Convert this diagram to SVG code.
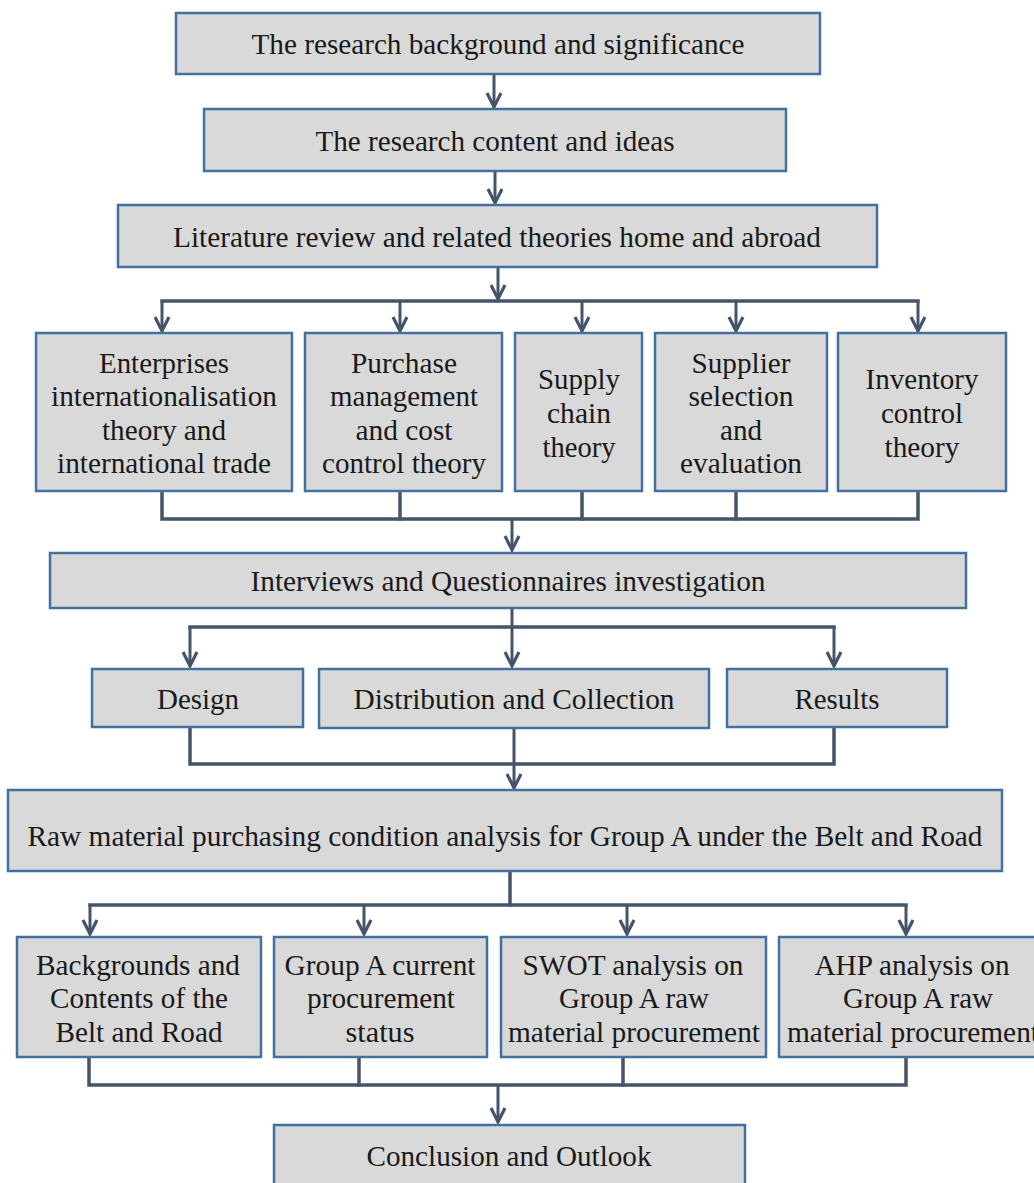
<svg xmlns="http://www.w3.org/2000/svg" width="1034" height="1183" viewBox="0 0 1034 1183">
  <style>
    .box { fill: #d9d9d9; stroke: #41719c; stroke-width: 2.5; }
    .lbl { font-family: "Liberation Serif", "Times New Roman", Times, serif; font-size: 30px; fill: #1a1a1a; text-anchor: middle; }
    .wire { fill: none; stroke: #44546a; stroke-width: 3.5; stroke-linejoin: miter; stroke-linecap: square; }
    .arw { fill: none; stroke: #44546a; stroke-width: 3; marker-end: url(#head); }
  </style>
  <defs>
    <!-- open chevron arrowhead, tip at the path end -->
    <marker id="head" viewBox="-17 -10 19 20" refX="0" refY="0" markerWidth="19" markerHeight="20" markerUnits="userSpaceOnUse" orient="auto" overflow="visible">
      <path d="M-14,-7 L0,0 L-14,7" fill="none" stroke="#44546a" stroke-width="3.2" stroke-linejoin="miter"/>
    </marker>
  </defs>
  <rect width="1034" height="1183" fill="#ffffff"/>

  <g id="connectors">
    <path class="arw" d="M494,74 V107"/>
    <path class="arw" d="M495,171 V203"/>
    <path class="arw" d="M498,267 V299"/>
    <path class="wire" d="M162,301 H918"/>
    <path class="arw" d="M162,301 V331"/>
    <path class="arw" d="M400,301 V331"/>
    <path class="arw" d="M582,301 V331"/>
    <path class="arw" d="M736,301 V331"/>
    <path class="arw" d="M918,301 V331"/>
    <path class="wire" d="M162,491 V519 H918 V491"/>
    <path class="wire" d="M400,491 V519"/>
    <path class="wire" d="M582,491 V519"/>
    <path class="wire" d="M736,491 V519"/>
    <path class="arw" d="M512,519 V550"/>
    <path class="arw" d="M512,608 V666"/>
    <path class="wire" d="M190,627 H834"/>
    <path class="arw" d="M190,627 V666"/>
    <path class="arw" d="M834,627 V666"/>
    <path class="wire" d="M190,727 V764 H834 V727"/>
    <path class="arw" d="M514,728 V788"/>
    <path class="wire" d="M510,871 V905"/>
    <path class="wire" d="M90,905 H906"/>
    <path class="arw" d="M90,905 V934"/>
    <path class="arw" d="M364,905 V934"/>
    <path class="arw" d="M627,905 V934"/>
    <path class="arw" d="M906,905 V934"/>
    <path class="wire" d="M89,1057 V1085 H906 V1057"/>
    <path class="wire" d="M359,1057 V1085"/>
    <path class="wire" d="M623,1057 V1085"/>
    <path class="arw" d="M498,1085 V1122"/>
  </g>

  <g id="background">
    <rect class="box" x="176" y="13" width="644" height="61"/>
    <text class="lbl" x="498" y="54" textLength="493" lengthAdjust="spacingAndGlyphs">The research background and significance</text>
  </g>
  <g id="content">
    <rect class="box" x="204" y="109" width="582" height="62"/>
    <text class="lbl" x="495" y="151" textLength="359" lengthAdjust="spacingAndGlyphs">The research content and ideas</text>
  </g>
  <g id="literature">
    <rect class="box" x="118" y="205" width="759" height="62"/>
    <text class="lbl" x="497" y="247" textLength="648" lengthAdjust="spacingAndGlyphs">Literature review and related theories home and abroad</text>
  </g>

  <g id="theory-internationalisation">
    <rect class="box" x="36" y="333" width="256" height="158"/>
    <text class="lbl" x="164" y="373" textLength="130" lengthAdjust="spacingAndGlyphs">Enterprises</text>
    <text class="lbl" x="164" y="406" textLength="226" lengthAdjust="spacingAndGlyphs">internationalisation</text>
    <text class="lbl" x="164" y="440" textLength="124" lengthAdjust="spacingAndGlyphs">theory and</text>
    <text class="lbl" x="164" y="473" textLength="214" lengthAdjust="spacingAndGlyphs">international trade</text>
  </g>
  <g id="theory-purchase">
    <rect class="box" x="305" y="333" width="197" height="158"/>
    <text class="lbl" x="404" y="373" textLength="106" lengthAdjust="spacingAndGlyphs">Purchase</text>
    <text class="lbl" x="404" y="406" textLength="148" lengthAdjust="spacingAndGlyphs">management</text>
    <text class="lbl" x="404" y="440" textLength="97" lengthAdjust="spacingAndGlyphs">and cost</text>
    <text class="lbl" x="404" y="473" textLength="164" lengthAdjust="spacingAndGlyphs">control theory</text>
  </g>
  <g id="theory-supply-chain">
    <rect class="box" x="515" y="333" width="127" height="158"/>
    <text class="lbl" x="579" y="389" textLength="82" lengthAdjust="spacingAndGlyphs">Supply</text>
    <text class="lbl" x="579" y="423" textLength="64" lengthAdjust="spacingAndGlyphs">chain</text>
    <text class="lbl" x="579" y="457" textLength="73" lengthAdjust="spacingAndGlyphs">theory</text>
  </g>
  <g id="theory-supplier">
    <rect class="box" x="655" y="333" width="172" height="158"/>
    <text class="lbl" x="741" y="373" textLength="99" lengthAdjust="spacingAndGlyphs">Supplier</text>
    <text class="lbl" x="741" y="406" textLength="105" lengthAdjust="spacingAndGlyphs">selection</text>
    <text class="lbl" x="741" y="440" textLength="42" lengthAdjust="spacingAndGlyphs">and</text>
    <text class="lbl" x="741" y="473" textLength="122" lengthAdjust="spacingAndGlyphs">evaluation</text>
  </g>
  <g id="theory-inventory">
    <rect class="box" x="838" y="333" width="168" height="158"/>
    <text class="lbl" x="922" y="389" textLength="113" lengthAdjust="spacingAndGlyphs">Inventory</text>
    <text class="lbl" x="922" y="423" textLength="82" lengthAdjust="spacingAndGlyphs">control</text>
    <text class="lbl" x="922" y="457" textLength="75" lengthAdjust="spacingAndGlyphs">theory</text>
  </g>

  <g id="interviews">
    <rect class="box" x="50" y="553" width="916" height="55"/>
    <text class="lbl" x="508" y="591" textLength="515" lengthAdjust="spacingAndGlyphs">Interviews and Questionnaires investigation</text>
  </g>
  <g id="design">
    <rect class="box" x="92" y="669" width="211" height="58"/>
    <text class="lbl" x="198" y="709" textLength="82" lengthAdjust="spacingAndGlyphs">Design</text>
  </g>
  <g id="distribution">
    <rect class="box" x="319" y="669" width="390" height="59"/>
    <text class="lbl" x="514" y="709" textLength="321" lengthAdjust="spacingAndGlyphs">Distribution and Collection</text>
  </g>
  <g id="results">
    <rect class="box" x="727" y="669" width="220" height="58"/>
    <text class="lbl" x="837" y="709" textLength="85" lengthAdjust="spacingAndGlyphs">Results</text>
  </g>

  <g id="analysis">
    <rect class="box" x="8" y="790" width="994" height="81"/>
    <text class="lbl" x="505" y="846" textLength="955" lengthAdjust="spacingAndGlyphs">Raw material purchasing condition analysis for Group A under the Belt and Road</text>
  </g>

  <g id="belt-road">
    <rect class="box" x="17" y="937" width="244" height="120"/>
    <text class="lbl" x="138" y="975" textLength="204" lengthAdjust="spacingAndGlyphs">Backgrounds and</text>
    <text class="lbl" x="139" y="1008" textLength="178" lengthAdjust="spacingAndGlyphs">Contents of the</text>
    <text class="lbl" x="139" y="1042" textLength="167" lengthAdjust="spacingAndGlyphs">Belt and Road</text>
  </g>
  <g id="current-status">
    <rect class="box" x="274" y="937" width="213" height="120"/>
    <text class="lbl" x="380" y="975" textLength="191" lengthAdjust="spacingAndGlyphs">Group A current</text>
    <text class="lbl" x="381" y="1008" textLength="148" lengthAdjust="spacingAndGlyphs">procurement</text>
    <text class="lbl" x="380" y="1042" textLength="69" lengthAdjust="spacingAndGlyphs">status</text>
  </g>
  <g id="swot">
    <rect class="box" x="501" y="937" width="265" height="120"/>
    <text class="lbl" x="633" y="975" textLength="221" lengthAdjust="spacingAndGlyphs">SWOT analysis on</text>
    <text class="lbl" x="634" y="1008" textLength="150" lengthAdjust="spacingAndGlyphs">Group A raw</text>
    <text class="lbl" x="634" y="1042" textLength="252" lengthAdjust="spacingAndGlyphs">material procurement</text>
  </g>
  <g id="ahp">
    <rect class="box" x="779" y="937" width="262" height="120"/>
    <text class="lbl" x="912" y="975" textLength="195" lengthAdjust="spacingAndGlyphs">AHP analysis on</text>
    <text class="lbl" x="918" y="1008" textLength="150" lengthAdjust="spacingAndGlyphs">Group A raw</text>
    <text class="lbl" x="913" y="1042" textLength="252" lengthAdjust="spacingAndGlyphs">material procurement</text>
  </g>

  <g id="conclusion">
    <rect class="box" x="274" y="1125" width="471" height="66"/>
    <text class="lbl" x="509" y="1166" textLength="285" lengthAdjust="spacingAndGlyphs">Conclusion and Outlook</text>
  </g>
</svg>
